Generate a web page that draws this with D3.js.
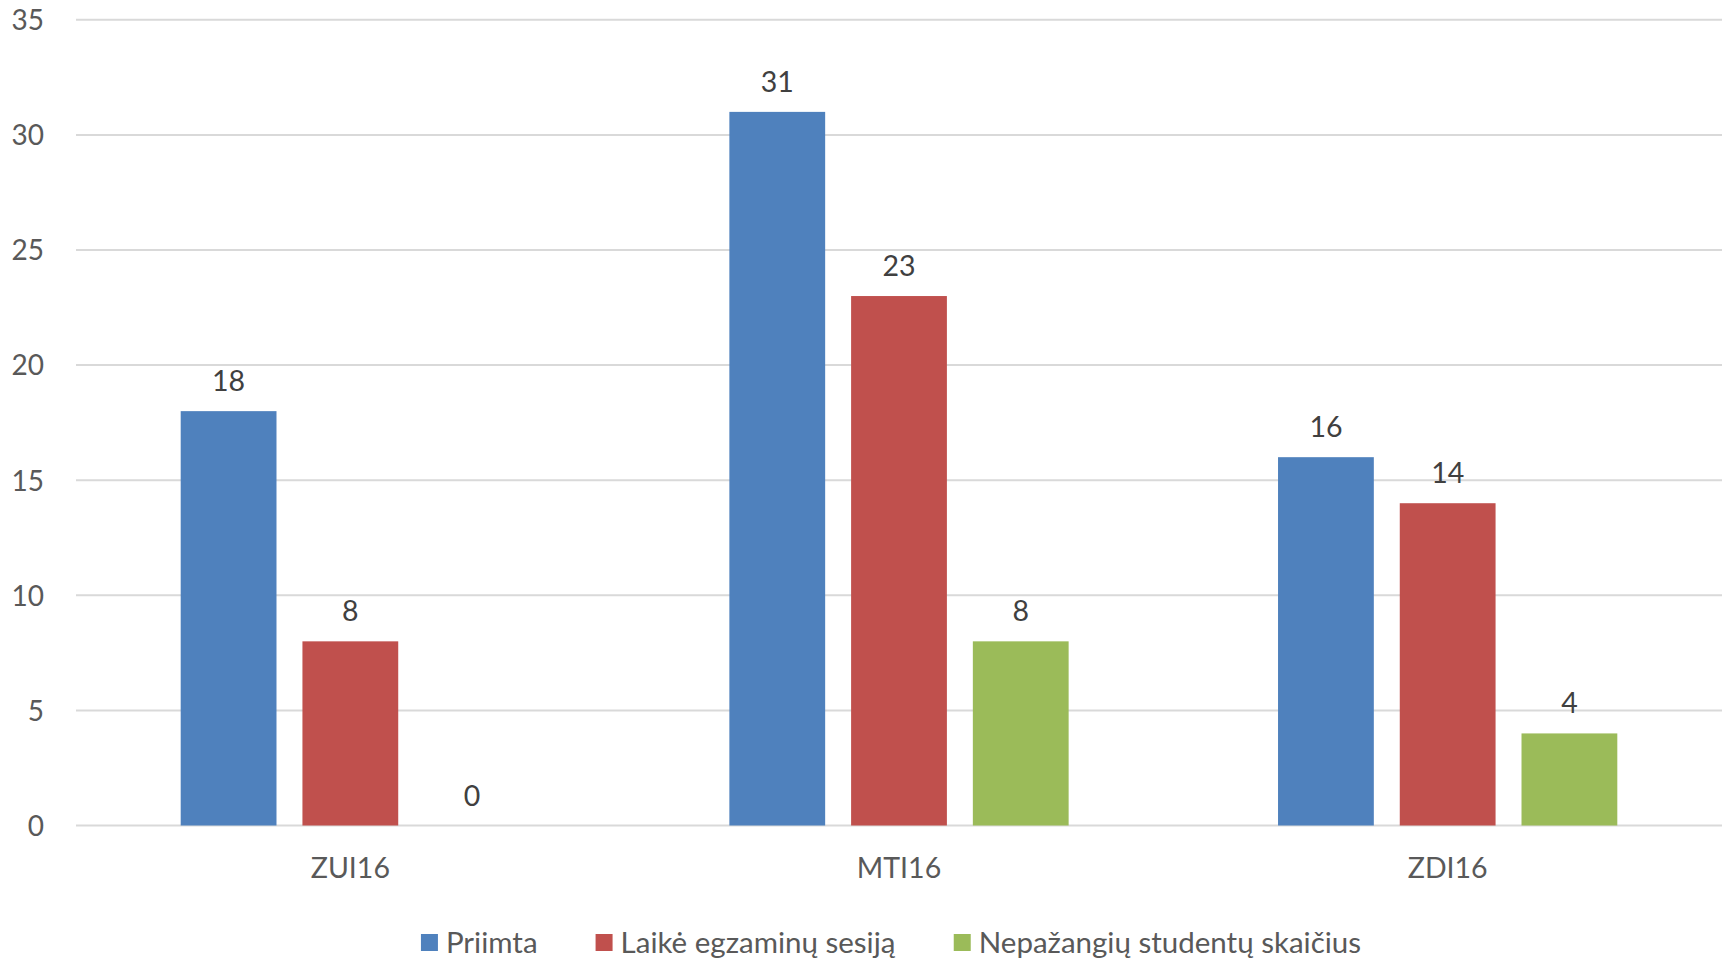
<!DOCTYPE html>
<html>
<head>
<meta charset="utf-8">
<script src="https://cdn.jsdelivr.net/npm/d3@7"></script>
<style>
  html, body { margin: 0; padding: 0; background: #fff; }
  svg { display: block; }
  text { font-family: Lato, "Open Sans", sans-serif; }
</style>
</head>
<body>
<svg id="chart" width="1727" height="963"></svg>
<script>
const categories = ["ZUI16", "MTI16", "ZDI16"];
const seriesNames = ["Priimta", "Laikė egzaminų sesiją", "Nepažangių studentų skaičius"];
const priimta = [18, 31, 16];
const laike = [8, 23, 14];
const nepazangiu = [0, 8, 4];
const yTicks = [0, 5, 10, 15, 20, 25, 30, 35];
const colors = ["#4F81BD", "#C0504D", "#9BBB59"];

const seriesValues = [priimta, laike, nepazangiu];

const svg = d3.select("#chart");
const plotLeft = 76, plotRight = 1722, plotTop = 19.8, plotBottom = 825.5;

const x0 = d3.scaleBand().domain(categories).range([plotLeft, plotRight]).paddingInner(0).paddingOuter(0);
const x1 = d3.scaleBand().domain(d3.range(seriesNames.length)).range([0, x0.bandwidth()])
  .paddingInner(26 / 122).paddingOuter(0.86);
const y = d3.scaleLinear().domain([0, 35]).range([plotBottom, plotTop]);

// gridlines
svg.append("g")
  .selectAll("line")
  .data(yTicks)
  .join("line")
  .attr("x1", plotLeft).attr("x2", plotRight)
  .attr("y1", d => y(d)).attr("y2", d => y(d))
  .attr("stroke", "#D9D9D9").attr("stroke-width", 2);

// y axis labels
const yAxis = d3.axisLeft(y).tickValues(yTicks).tickSize(0).tickPadding(0);
const yg = svg.append("g").attr("transform", `translate(44,0)`).call(yAxis);
yg.select(".domain").remove();
yg.selectAll("text").attr("font-size", 28).attr("fill", "#595959")
  .attr("font-family", "Lato, 'Open Sans', sans-serif").attr("dy", "0.35em");

// bars
const groups = svg.append("g").selectAll("g")
  .data(categories)
  .join("g")
  .attr("transform", d => `translate(${x0(d)},0)`);

groups.selectAll("rect")
  .data((c, ci) => seriesValues.map((vals, si) => ({ si, v: vals[ci] })))
  .join("rect")
  .attr("x", d => x1(d.si))
  .attr("width", x1.bandwidth())
  .attr("y", d => y(d.v))
  .attr("height", d => y(0) - y(d.v))
  .attr("fill", d => colors[d.si]);

groups.selectAll("text.val")
  .data((c, ci) => seriesValues.map((vals, si) => ({ si, v: vals[ci] })))
  .join("text")
  .attr("class", "val")
  .attr("x", d => x1(d.si) + x1.bandwidth() / 2)
  .attr("y", d => y(d.v) - 20)
  .attr("text-anchor", "middle")
  .attr("font-size", 28.5)
  .attr("fill", "#404040")
  .text(d => d.v);

// x axis labels
const xAxis = d3.axisBottom(x0).tickSize(0).tickPadding(0);
const xg = svg.append("g").call(xAxis);
xg.select(".domain").remove();
xg.selectAll("text").attr("font-size", 28.5).attr("fill", "#595959")
  .attr("font-family", "Lato, 'Open Sans', sans-serif")
  .attr("y", 878).attr("dy", null);

// legend
const legend = svg.append("g");
const items = legend.selectAll("g").data(seriesNames).join("g");
items.append("rect").attr("width", 17).attr("height", 17).attr("y", 934)
  .attr("fill", (d, i) => colors[i]);
items.append("text").attr("x", 25).attr("y", 953).attr("font-size", 29.5)
  .attr("fill", "#595959").text(d => d);
const widths = [];
items.each(function () { widths.push(this.getBBox().width); });
const gap = 58;
const total = d3.sum(widths) + gap * (widths.length - 1);
let cx = 891 - total / 2;
items.attr("transform", (d, i) => {
  const t = `translate(${cx},0)`;
  cx += widths[i] + gap;
  return t;
});
</script>
</body>
</html>
